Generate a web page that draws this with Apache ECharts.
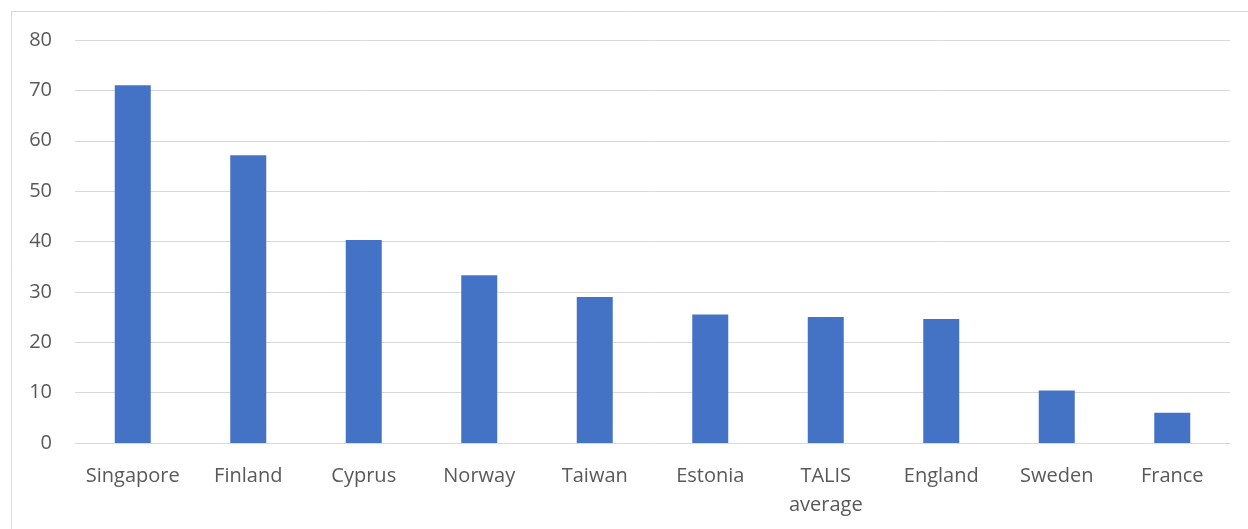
<!DOCTYPE html>
<html>
<head>
<meta charset="utf-8">
<script src="https://cdn.jsdelivr.net/npm/echarts@6/dist/echarts.min.js"></script>
<style>
  html, body { margin: 0; padding: 0; background: #fff; }
  #chart { width: 1248px; height: 529px; }
</style>
</head>
<body>
<div id="chart"></div>
<script>
  // countries along the x axis
  var countries = ['Singapore', 'Finland', 'Cyprus', 'Norway', 'Taiwan', 'Estonia',
    'TALIS average', 'England', 'Sweden', 'France'];
  // bar values
  var values = [71, 57.1, 40.3, 33.3, 29, 25.5, 25, 24.6, 10.4, 6];

  var chart = echarts.init(document.getElementById('chart'));
  var labelFont = '"Open Sans", "Noto Sans", sans-serif';

  var option = {
    animation: false,
    backgroundColor: '#fff',
    graphic: [{
      type: 'rect',
      shape: { x: 11.5, y: 11.5, width: 1260, height: 560 },
      style: { fill: 'none', stroke: '#d9d9d9', lineWidth: 1 },
      silent: true
    }],
    grid: { left: 75, right: 18, top: 40, bottom: 86 },
    xAxis: {
      type: 'category',
      data: countries,
      axisLine: { lineStyle: { color: '#d9d9d9', width: 1 } },
      axisTick: { show: false },
      axisLabel: {
        interval: 0,
        hideOverlap: false,
        color: '#595959',
        fontSize: 20,
        fontFamily: labelFont,
        margin: 19,
        lineHeight: 29,
        formatter: function (v) { return v.replace(' ', '\n'); }
      }
    },
    yAxis: {
      type: 'value',
      min: 0,
      max: 80,
      interval: 10,
      axisLine: { show: false },
      axisTick: { show: false },
      splitLine: { lineStyle: { color: '#d9d9d9', width: 1 } },
      axisLabel: {
        color: '#595959',
        fontSize: 20,
        fontFamily: labelFont,
        margin: 23
      }
    },
    series: [{
      type: 'bar',
      data: values,
      barWidth: 36,
      itemStyle: { color: '#4472c4' }
    }]
  };
  chart.setOption(option);
</script>
</body>
</html>
